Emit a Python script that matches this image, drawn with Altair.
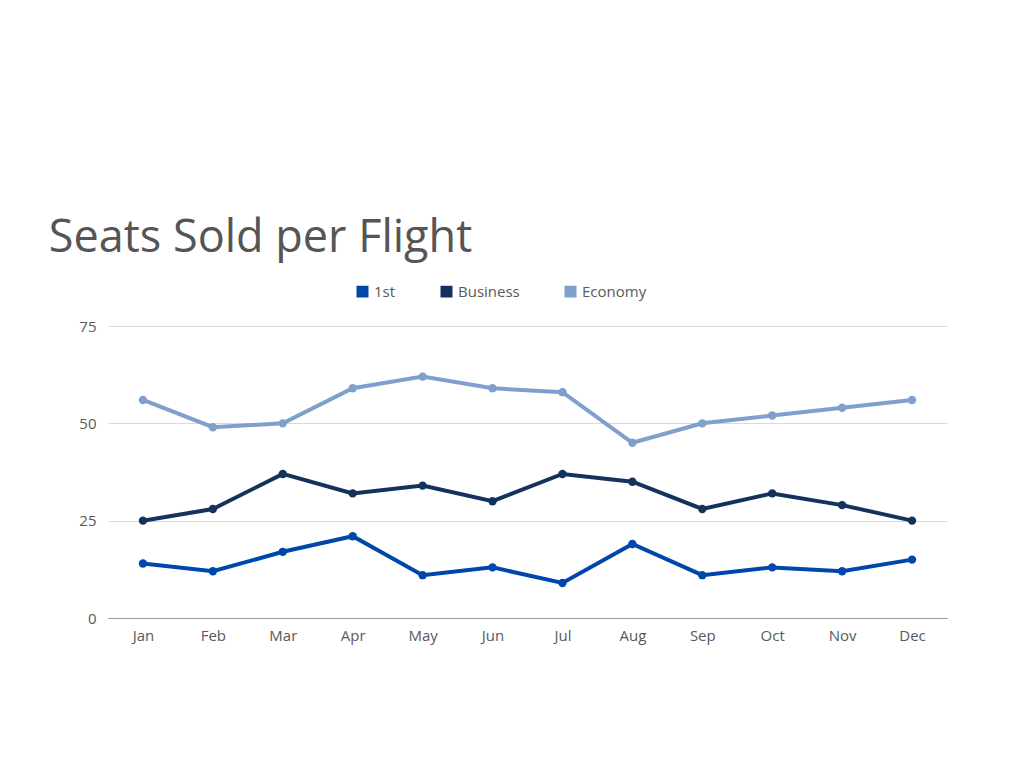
import altair as alt
import pandas as pd

months = ["Jan", "Feb", "Mar", "Apr", "May", "Jun", "Jul", "Aug", "Sep", "Oct", "Nov", "Dec"]
first = [14, 12, 17, 21, 11, 13, 9, 19, 11, 13, 12, 15]
business = [25, 28, 37, 32, 34, 30, 37, 35, 28, 32, 29, 25]
economy = [56, 49, 50, 59, 62, 59, 58, 45, 50, 52, 54, 56]

classes = ["1st", "Business", "Economy"]
colors = ["#0047AB", "#14325C", "#7F9FCC"]

rows = []
for name, vals in zip(classes, [first, business, economy]):
    for m, v in zip(months, vals):
        rows.append({"month": m, "class": name, "seats": v})
df = pd.DataFrame(rows)

font = "Open Sans"

chart = (
    alt.Chart(df)
    .mark_line(strokeWidth=4, point=alt.OverlayMarkDef(size=70, filled=True, opacity=1))
    .encode(
        x=alt.X("month:N", sort=months, title=None,
                scale=alt.Scale(type="point", padding=0.5),
                axis=alt.Axis(labelAngle=0, ticks=False, domainColor="#999999",
                              labelColor="#595959", labelFont=font, labelFontSize=15,
                              labelPadding=10, grid=False)),
        y=alt.Y("seats:Q", title=None,
                scale=alt.Scale(domain=[0, 75]),
                axis=alt.Axis(values=[0, 25, 50, 75], domain=False, ticks=False,
                              gridColor="#d9d9d9", labelColor="#595959", labelFont=font,
                              labelFontSize=15, labelPadding=12)),
        color=alt.Color("class:N", sort=classes, title=None,
                        scale=alt.Scale(domain=classes, range=colors),
                        legend=alt.Legend(orient="none", direction="horizontal",
                                          legendX=247, legendY=-42, symbolType="square",
                                          symbolSize=110, labelFont=font, labelFontSize=15,
                                          labelColor="#595959", columnPadding=42)),
    )
    .properties(
        width=839,
        height=292,
        autosize=alt.AutoSizeParams(type="none"),
        padding={"left": 100, "top": 318, "right": 10, "bottom": 60},
        title=alt.TitleParams("Seats Sold per Flight", anchor="start", dx=-30, offset=23,
                              font=font, fontSize=45, fontWeight="normal", color="#555555"),
    )
    .configure_view(stroke=None)
)

chart.save("out.html", embed_options={"renderer": "svg", "actions": False})
